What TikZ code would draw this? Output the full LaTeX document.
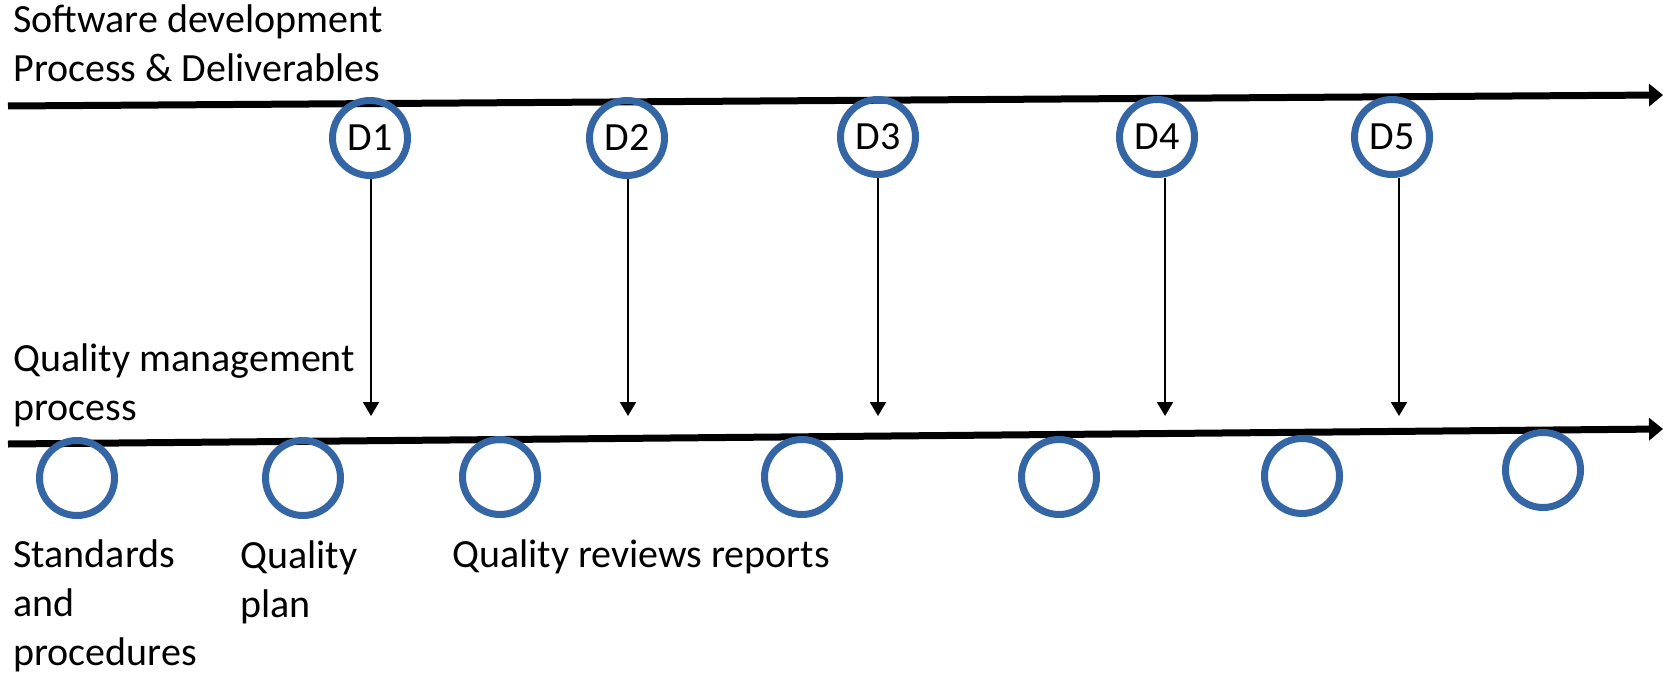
\documentclass[tikz,border=0pt]{standalone}
\usepackage{fontspec}
\setmainfont{Carlito}
\usetikzlibrary{arrows.meta}
\definecolor{ring}{RGB}{52,101,164}
\begin{document}
\begin{tikzpicture}[x=0.5pt,y=-0.5pt,
  label text/.style={inner sep=0pt, align=left, anchor=base west,
    font=\fontsize{20}{24.5}\selectfont},
  milestone/.style={circle, draw=ring, line width=3.5pt, minimum size=37.5pt,
    inner sep=0pt, font=\fontsize{20}{24}\selectfont},
  timeline/.style={line width=3.5pt, -{Triangle[length=7pt,width=11pt]}},
  handover/.style={line width=1pt, -{Triangle[length=7pt,width=8pt]}}]
  \useasboundingbox (0,0) rectangle (1663,674);

  % process lines
  \coordinate (devstart) at (8,106);
  \coordinate (devend) at (1663,95);
  \coordinate (qmstart) at (8,444);
  \coordinate (qmend) at (1663,429);
  \draw[timeline] (devstart) -- (devend);
  \draw[timeline] (qmstart) -- (qmend);

  % headings (anchored at the baseline of their last line)
  \node[label text] (devtitle) at (13,82) {Software development\\Process \& Deliverables};
  \node[label text] (qmtitle) at (13,420) {Quality management\\process};

  % deliverables
  \node[milestone] (D1) at (370,138) {D1};
  \node[milestone] (D2) at (627,138) {D2};
  \node[milestone] (D3) at (878,137) {D3};
  \node[milestone] (D4) at (1157,137) {D4};
  \node[milestone] (D5) at (1392,137) {D5};

  % hand-over points on the quality line
  \coordinate (t1) at (371,416);
  \coordinate (t2) at (628,416);
  \coordinate (t3) at (878,416);
  \coordinate (t4) at (1165,416);
  \coordinate (t5) at (1399,416);
  \foreach \i in {1,...,5} {
    \draw[handover] (D\i.south -| t\i) -- (t\i);
  }

  % quality management outputs
  \node[milestone] (Q1) at (77,478) {};
  \node[milestone] (Q2) at (303,478) {};
  \node[milestone] (Q3) at (500,477) {};
  \node[milestone] (Q4) at (802,477) {};
  \node[milestone] (Q5) at (1059,477) {};
  \node[milestone] (Q6) at (1302,476) {};
  \node[milestone] (Q7) at (1543,470) {};

  \node[label text] (stdlabel) at (13,665) {Standards\\and\\procedures};
  \node[label text] (planlabel) at (240,617) {Quality\\plan};
  \node[label text] (reviewlabel) at (452,567) {Quality reviews reports};
\end{tikzpicture}
\end{document}
